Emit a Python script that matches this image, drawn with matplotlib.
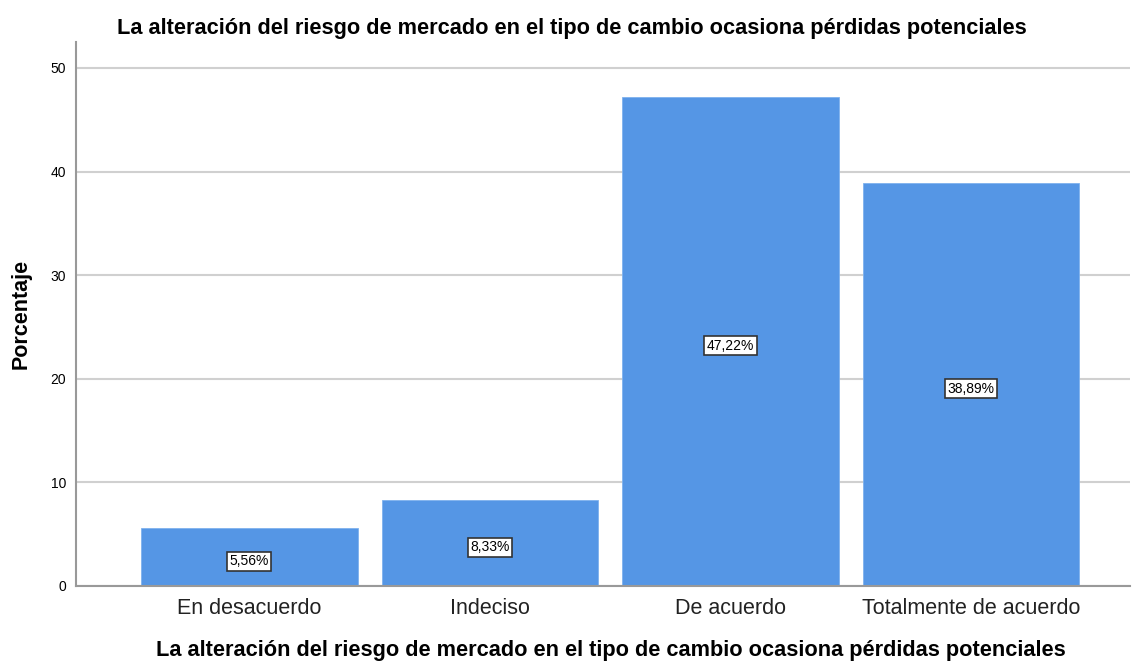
import matplotlib
matplotlib.use("Agg")
import matplotlib.pyplot as plt

categories = ["En desacuerdo", "Indeciso", "De acuerdo", "Totalmente de acuerdo"]
values = [5.56, 8.33, 47.22, 38.89]
labels = ["5,56%", "8,33%", "47,22%", "38,89%"]
yticks = [0, 10, 20, 30, 40, 50]
title = "La alteración del riesgo de mercado en el tipo de cambio ocasiona pérdidas potenciales"

plt.rcParams['font.family'] = ['Liberation Sans', 'DejaVu Sans']

fig = plt.figure(figsize=(11.34, 6.64), dpi=100)
ax = fig.add_axes([0.067, 0.1175, 0.9295, 0.8192])

x = list(range(len(categories)))
ax.bar(x, values, width=0.9, color="#5596E5", edgecolor="#7fb2ee", linewidth=0.6, zorder=2)
for xi, v, lab in zip(x, values, labels):
    ax.annotate(lab, (xi, v / 2), xytext=(0, -2), textcoords="offset points",
                ha="center", va="center_baseline", fontsize=10, zorder=3,
                bbox=dict(boxstyle="square,pad=0.18", facecolor="white", edgecolor="#333333", linewidth=1.2))

ax.set_xlim(-0.72, 3.66)
ax.set_ylim(0, 52.5)
ax.set_yticks(yticks)
ax.set_yticklabels([str(t) for t in yticks], fontsize=10)
ax.set_xticks(x)
ax.set_xticklabels(categories, fontsize=15.5, color="#222222")
ax.tick_params(axis="both", length=0, pad=7)
ax.tick_params(axis="x", pad=9)
ax.yaxis.grid(True, color="#d0d0d0", linewidth=1.5, zorder=0)
ax.set_axisbelow(True)
for s in ["top", "right"]:
    ax.spines[s].set_visible(False)
for s in ["left", "bottom"]:
    ax.spines[s].set_color("#999999")
    ax.spines[s].set_linewidth(1.5)

ax.set_title(title, fontsize=15.7, fontweight="bold", pad=6, x=0.470)
ax.set_xlabel(title, fontsize=15.7, fontweight="bold", labelpad=15, x=0.5076)
ax.set_ylabel("Porcentaje", fontsize=15.5, fontweight="bold", labelpad=14)

fig.savefig("out.png", dpi=100)
